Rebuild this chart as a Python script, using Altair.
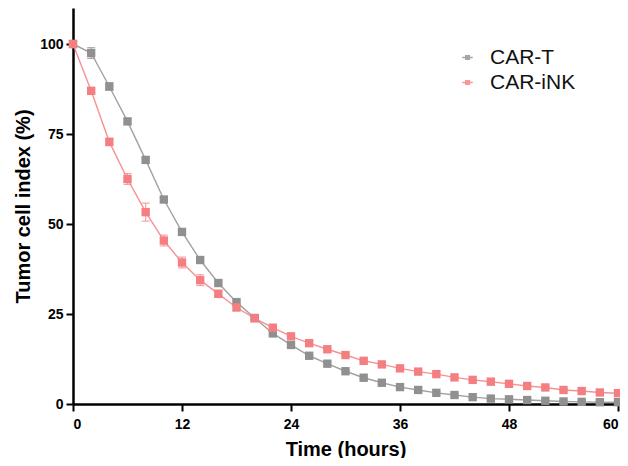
import altair as alt
import pandas as pd

hours = list(range(0, 62, 2))
cart = [100, 97.5, 88.2, 78.5, 67.8, 56.8, 47.8, 40.0, 33.6, 28.3, 23.9, 19.6, 16.4,
        13.4, 11.2, 9.1, 7.3, 5.9, 4.7, 3.9, 3.1, 2.5, 1.9, 1.5, 1.3, 1.1, 0.9, 0.7,
        0.6, 0.5, 0.5]
carink = [100, 87.0, 72.8, 62.5, 53.3, 45.4, 39.3, 34.4, 30.6, 26.8, 23.8, 21.2, 18.8,
          16.9, 15.2, 13.6, 12.0, 11.0, 9.9, 9.0, 8.3, 7.4, 6.7, 6.2, 5.6, 5.0, 4.6,
          3.9, 3.6, 3.2, 3.0]
cart_err = [0, 1.5, 1.0, 0.8, 0.6, 0.5, 0.5, 0.5, 0.5, 0.4, 0.4, 0.3, 0.3, 0.3, 0.3,
            0.3, 0.3, 0.3, 0.3, 0.3, 0.3, 0.3, 0.3, 0.3, 0.3, 0.3, 0.3, 0.3, 0.3, 0.3, 0.3]
carink_err = [0, 0.5, 1.0, 1.5, 2.5, 1.5, 1.5, 1.5, 1.0, 0.8, 0.6, 0.5, 0.4, 0.3, 0.3,
              0.3, 0.3, 0.3, 0.3, 0.3, 0.3, 0.3, 0.3, 0.3, 0.3, 0.3, 0.3, 0.3, 0.3, 0.3, 0.3]
series = ["CAR-T", "CAR-iNK"]
colors = ["#909090", "#F47E80"]

rows = []
for name, vals, errs in [(series[0], cart, cart_err), (series[1], carink, carink_err)]:
    for h, v, e in zip(hours, vals, errs):
        rows.append({"hour": h, "value": v, "lo": v - e, "hi": v + e, "series": name,
                     "order": series.index(name)})
df = pd.DataFrame(rows)

FONT = "Liberation Sans"
xs = alt.Scale(domain=[0, 60], nice=False, zero=False)
ys = alt.Scale(domain=[0, 110], nice=False)
cscale = alt.Scale(domain=series, range=colors)
color = alt.Color(
    "series:N",
    scale=cscale,
    sort=series,
    legend=alt.Legend(
        title=None, orient="none", legendX=383, legendY=38, padding=0,
        symbolType="M-0.5,0H0.5M-0.17,-0.17H0.17V0.17H-0.17Z",
        symbolSize=441, symbolStrokeWidth=1.5, symbolOpacity=0.8,
        labelFont=FONT, labelFontSize=21, labelColor="#111", labelOffset=11,
        rowPadding=3, labelLimit=300,
    ),
)

base = alt.Chart(df)
x = alt.X("hour:Q", scale=xs,
          axis=alt.Axis(title="Time (hours)", values=[0, 12, 24, 36, 48, 60]))
y = alt.Y("value:Q", scale=ys,
          axis=alt.Axis(title="Tumor cell index (%)", values=[0, 25, 50, 75, 100]))

nolegend = alt.Color("series:N", scale=cscale, legend=None)
lines = base.mark_line(strokeWidth=1.4, opacity=0.85).encode(
    x=x, y=y, color=color, detail="series:N", order="hour:Q")
err = base.mark_rule(strokeWidth=1.2, opacity=0.7).encode(
    x="hour:Q", y="lo:Q", y2="hi:Q", color=nolegend)
caps_lo = base.mark_tick(orient="horizontal", size=8, thickness=1.2, opacity=0.7).encode(
    x="hour:Q", y="lo:Q", color=nolegend)
caps_hi = base.mark_tick(orient="horizontal", size=8, thickness=1.2, opacity=0.7).encode(
    x="hour:Q", y="hi:Q", color=nolegend)
pts = base.mark_point(shape="square", filled=True, size=70, opacity=1).encode(
    x="hour:Q", y="value:Q", color=nolegend, order="order:Q")

chart = alt.layer(lines, err, caps_lo, caps_hi, pts).properties(
    width=545, height=396,
    autosize=alt.AutoSizeParams(type="none"),
    padding={"left": 65, "top": 0, "right": 2, "bottom": 54},
).configure_view(stroke=None).configure_axis(
    grid=False, domainColor="black", domainWidth=2.5, tickColor="black", tickWidth=2,
    tickSize=7, labelFont=FONT, labelFontWeight="bold", labelFontSize=14,
    labelColor="black", titleFont=FONT, titleFontWeight="bold", titleFontSize=20,
    titleColor="black",
).configure_axisX(labelPadding=6, titlePadding=8).configure_axisY(
    labelPadding=3, titlePadding=6, labelFlush=False)

chart.save("out.html", embed_options={"renderer": "svg", "actions": False})
